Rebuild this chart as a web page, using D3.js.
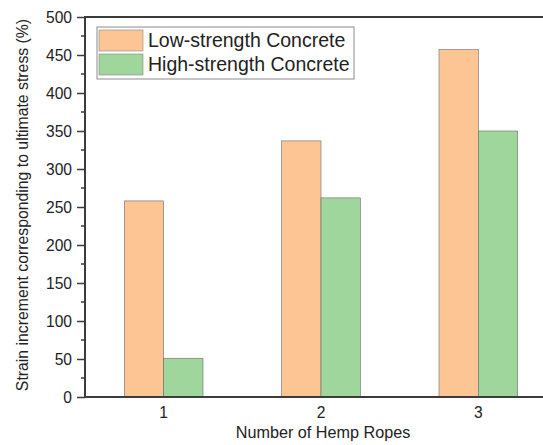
<!DOCTYPE html>
<html>
<head>
<meta charset="utf-8">
<script src="https://cdn.jsdelivr.net/npm/d3@7"></script>
<style>
  body { margin: 0; background: #fff; }
  text { font-family: "Liberation Sans", Arial, sans-serif; fill: #222; }
</style>
</head>
<body>
<script>
// data
const ropes = [1, 2, 3]
const seriesNames = ['Low-strength Concrete', 'High-strength Concrete']
const lowStrength = [258, 337, 457]
const highStrength = [51, 262, 350]
const yTicks = [0, 50, 100, 150, 200, 250, 300, 350, 400, 450, 500]
const colors = ['#fdc594', '#9ed69b']

const width = 543, height = 445
const margins = { top: 17, left: 85, bottom: 48 }

const svg = d3.select('body').append('svg').attr('width', width).attr('height', height)

const x = d3.scaleLinear().domain([0.5, 3.5]).range([margins.left, margins.left + 472])
const y = d3.scaleLinear().domain([0, 500]).range([height - margins.bottom, margins.top])
const barW = x(0.25) - x(0)

const series = [lowStrength, highStrength]

// bars
series.forEach((vals, si) => {
	svg.append('g')
		.selectAll('rect')
		.data(vals)
		.join('rect')
		.attr('x', (d, i) => x(ropes[i]) + (si === 0 ? -barW : 0))
		.attr('y', d => y(d))
		.attr('width', barW)
		.attr('height', d => y(0) - y(d))
		.attr('fill', colors[si])
		.attr('stroke', '#6b6b6b')
		.attr('stroke-width', 0.6)
})

const axisColor = '#3c3c3c'

// left axis, major + minor ticks
const yAxis = svg.append('g').attr('transform', 'translate(' + margins.left + ',0)')
yAxis.call(d3.axisLeft(y).tickValues(yTicks).tickSize(8).tickPadding(5))
yAxis.select('.domain').remove()
yAxis.selectAll('.tick line').attr('stroke', axisColor).attr('stroke-width', 1.5)
yAxis.selectAll('.tick text').style('font-size', '15.6px').attr('fill', '#222')
yAxis.append('g')
	.selectAll('line')
	.data(d3.range(25, 500, 50))
	.join('line')
	.attr('x1', -4).attr('x2', 0)
	.attr('y1', d => y(d)).attr('y2', d => y(d))
	.attr('stroke', axisColor).attr('stroke-width', 1.5)

// bottom tick labels
svg.append('g')
	.selectAll('text')
	.data(ropes)
	.join('text')
	.attr('x', d => x(d))
	.attr('y', y(0) + 21)
	.attr('text-anchor', 'middle')
	.style('font-size', '15.6px')
	.text(d => d)

// frame lines
svg.append('line').attr('x1', margins.left).attr('x2', width)
	.attr('y1', y(500)).attr('y2', y(500)).attr('stroke', axisColor).attr('stroke-width', 2)
svg.append('line').attr('x1', margins.left).attr('x2', width)
	.attr('y1', y(0)).attr('y2', y(0)).attr('stroke', axisColor).attr('stroke-width', 2)
svg.append('line').attr('x1', margins.left).attr('x2', margins.left)
	.attr('y1', y(500) - 1).attr('y2', y(0) + 1).attr('stroke', axisColor).attr('stroke-width', 2)

// axis titles
svg.append('text')
	.attr('x', 323).attr('y', 438)
	.attr('text-anchor', 'middle')
	.style('font-size', '16.2px')
	.text('Number of Hemp Ropes')
svg.append('text')
	.attr('transform', 'translate(28,205) rotate(-90)')
	.attr('text-anchor', 'middle')
	.style('font-size', '15.8px')
	.text('Strain increment corresponding to ultimate stress (%)')

// legend
const legend = svg.append('g').attr('transform', 'translate(97,27)')
legend.append('rect')
	.attr('width', 257).attr('height', 52)
	.attr('fill', '#fff').attr('stroke', '#8c8c8c').attr('stroke-width', 1)
seriesNames.forEach((name, i) => {
	legend.append('rect')
		.attr('x', 2).attr('y', 3 + i * 24)
		.attr('width', 44).attr('height', 21)
		.attr('fill', colors[i])
		.attr('stroke', '#888').attr('stroke-width', 0.6)
	legend.append('text')
		.attr('x', 51).attr('y', 13.5 + i * 24)
		.attr('dy', '0.35em')
		.style('font-size', '19.5px')
		.text(name)
})
</script>
</body>
</html>
